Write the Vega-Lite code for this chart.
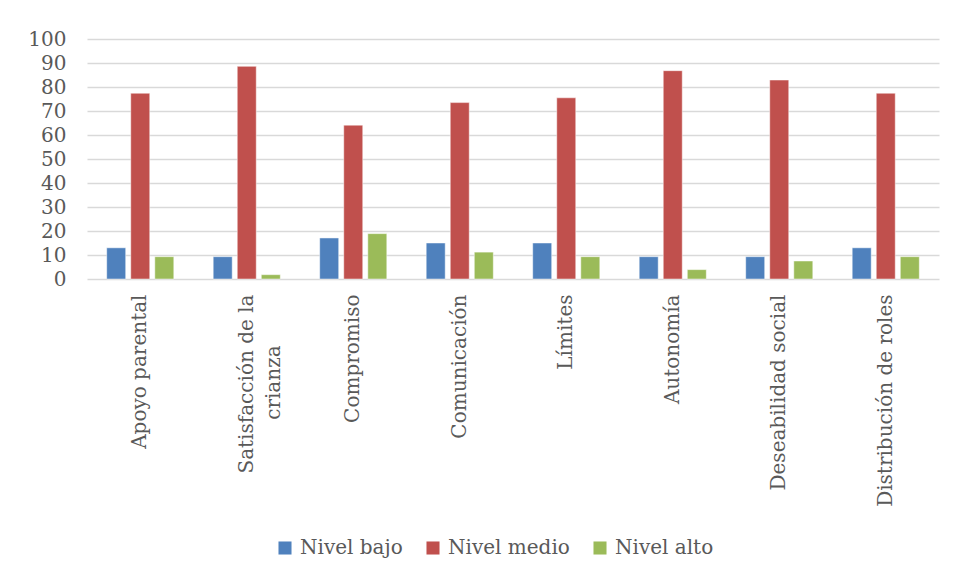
{
  "$schema": "https://vega.github.io/schema/vega-lite/v6.json",
  "autosize": "none",
  "width": 852,
  "height": 240,
  "padding": {"left": 87, "top": 39, "right": 16, "bottom": 301},
  "background": "white",
  "data": {
    "values": [
      {"cat": "Apoyo parental", "nivel": "Nivel bajo", "v": 13.0},
      {"cat": "Apoyo parental", "nivel": "Nivel medio", "v": 77.4},
      {"cat": "Apoyo parental", "nivel": "Nivel alto", "v": 9.3},
      {"cat": "Satisfacción de la crianza", "nivel": "Nivel bajo", "v": 9.3},
      {"cat": "Satisfacción de la crianza", "nivel": "Nivel medio", "v": 88.6},
      {"cat": "Satisfacción de la crianza", "nivel": "Nivel alto", "v": 1.8},
      {"cat": "Compromiso", "nivel": "Nivel bajo", "v": 17.1},
      {"cat": "Compromiso", "nivel": "Nivel medio", "v": 64.1},
      {"cat": "Compromiso", "nivel": "Nivel alto", "v": 18.9},
      {"cat": "Comunicación", "nivel": "Nivel bajo", "v": 15.0},
      {"cat": "Comunicación", "nivel": "Nivel medio", "v": 73.5},
      {"cat": "Comunicación", "nivel": "Nivel alto", "v": 11.2},
      {"cat": "Límites", "nivel": "Nivel bajo", "v": 15.0},
      {"cat": "Límites", "nivel": "Nivel medio", "v": 75.5},
      {"cat": "Límites", "nivel": "Nivel alto", "v": 9.3},
      {"cat": "Autonomía", "nivel": "Nivel bajo", "v": 9.3},
      {"cat": "Autonomía", "nivel": "Nivel medio", "v": 86.8},
      {"cat": "Autonomía", "nivel": "Nivel alto", "v": 3.9},
      {"cat": "Deseabilidad social", "nivel": "Nivel bajo", "v": 9.3},
      {"cat": "Deseabilidad social", "nivel": "Nivel medio", "v": 82.9},
      {"cat": "Deseabilidad social", "nivel": "Nivel alto", "v": 7.5},
      {"cat": "Distribución de roles", "nivel": "Nivel bajo", "v": 13.0},
      {"cat": "Distribución de roles", "nivel": "Nivel medio", "v": 77.4},
      {"cat": "Distribución de roles", "nivel": "Nivel alto", "v": 9.3}
    ]
  },
  "mark": {"type": "bar", "stroke": "white", "strokeWidth": 0.8, "strokeOpacity": 0.6},
  "encoding": {
    "x": {
      "field": "cat",
      "type": "nominal",
      "sort": null,
      "title": null,
      "scale": {"paddingInner": 0.37, "paddingOuter": 0.185},
      "axis": {
        "labelAngle": -90,
        "labelAlign": "right",
        "labelBaseline": "middle",
        "labelPadding": 15,
        "labelFont": "DejaVu Serif",
        "labelFontSize": 20,
        "labelColor": "#595959",
        "labelLimit": 300,
        "labelLineHeight": 27,
        "labelExpr": "datum.label == 'Satisfacción de la crianza' ? ['Satisfacción de la', 'crianza\u00a0\u00a0\u00a0\u00a0\u00a0\u00a0\u00a0\u00a0\u200b'] : datum.label",
        "ticks": false,
        "domain": false
      }
    },
    "xOffset": {
      "field": "nivel",
      "type": "nominal",
      "sort": ["Nivel bajo", "Nivel medio", "Nivel alto"],
      "scale": {"paddingInner": 0.21, "paddingOuter": 0}
    },
    "y": {
      "field": "v",
      "type": "quantitative",
      "title": null,
      "scale": {"domain": [0, 100], "nice": false},
      "axis": {
        "values": [0, 10, 20, 30, 40, 50, 60, 70, 80, 90, 100],
        "labelFont": "DejaVu Serif",
        "labelFontSize": 20,
        "labelColor": "#595959",
        "labelPadding": 21,
        "ticks": false,
        "domain": false,
        "gridColor": "#d9d9d9",
        "gridWidth": 1.5
      }
    },
    "color": {
      "field": "nivel",
      "type": "nominal",
      "sort": ["Nivel bajo", "Nivel medio", "Nivel alto"],
      "scale": {"domain": ["Nivel bajo", "Nivel medio", "Nivel alto"], "range": ["#4F81BD", "#C0504D", "#9BBB59"]},
      "legend": {
        "title": null,
        "orient": "none",
        "direction": "horizontal",
        "legendX": 188,
        "legendY": 499,
        "symbolType": "square",
        "symbolSize": 170,
        "symbolStrokeWidth": 0,
        "labelFont": "DejaVu Serif",
        "labelFontSize": 20,
        "labelColor": "#595959",
        "columnPadding": 20,
        "labelOffset": 5
      }
    }
  },
  "config": {"view": {"stroke": null}}
}
